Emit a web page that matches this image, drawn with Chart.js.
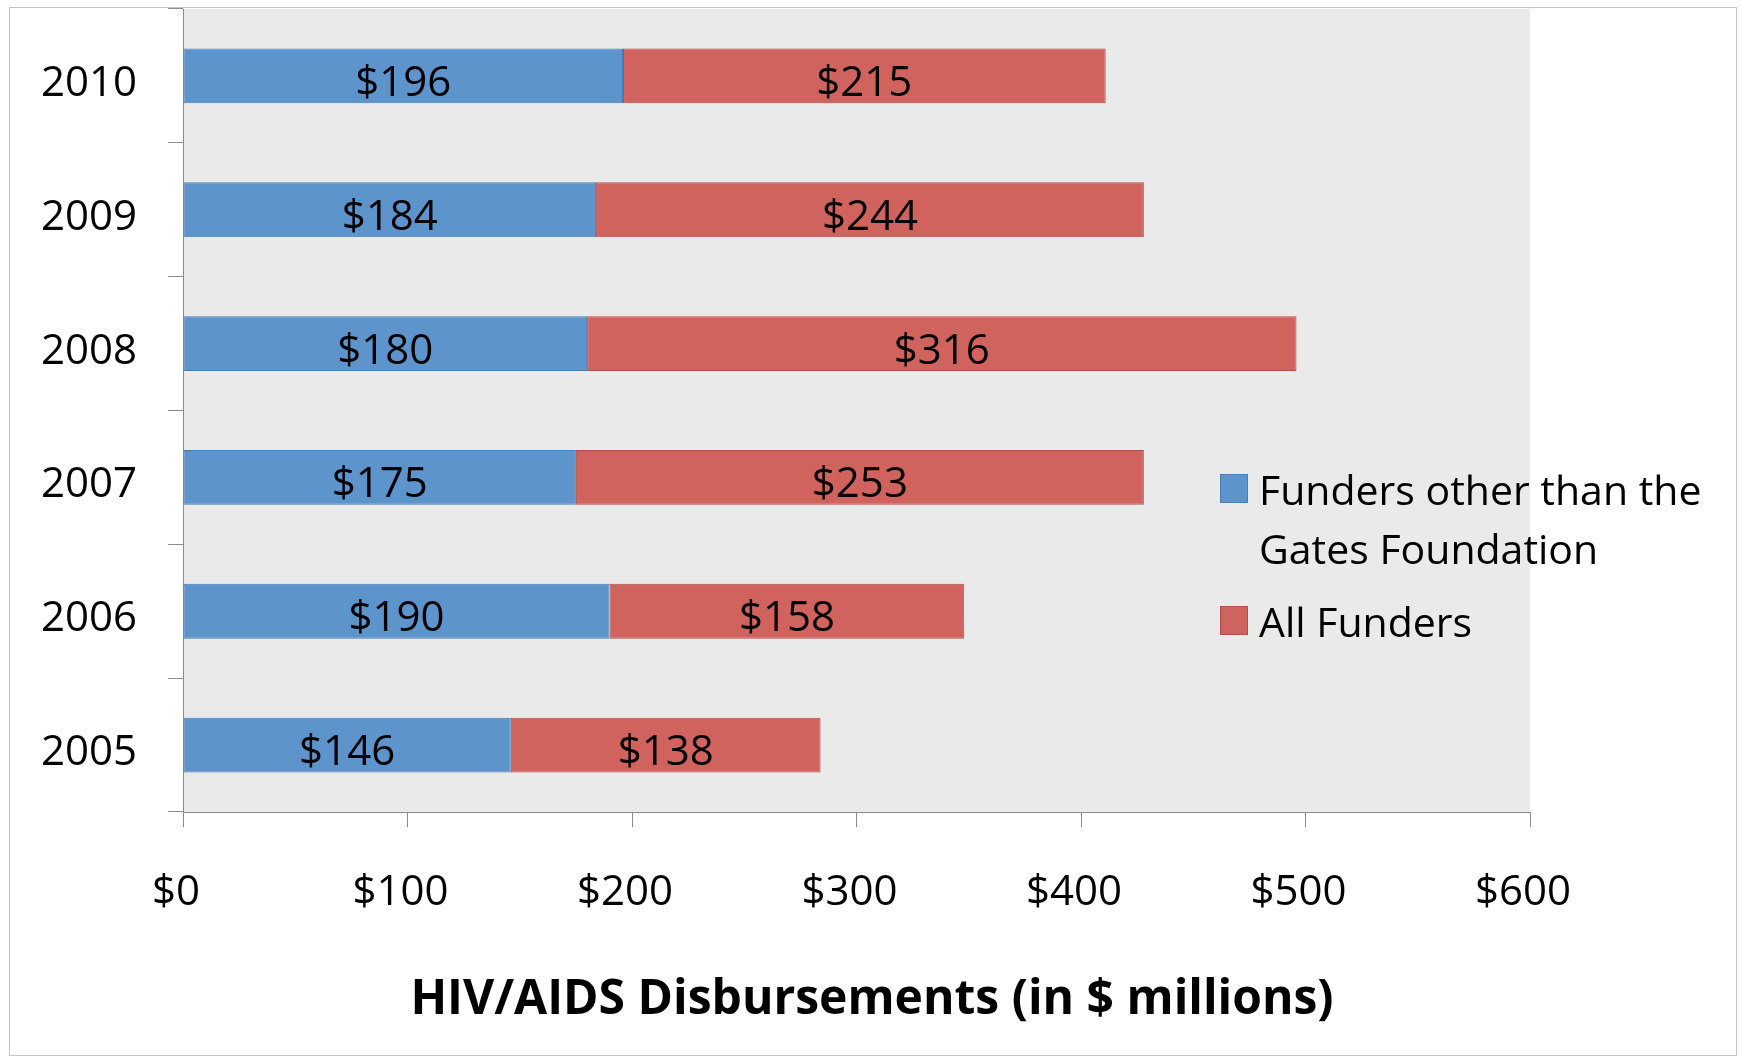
<!DOCTYPE html>
<html><head><meta charset="utf-8">
<script src="https://cdn.jsdelivr.net/npm/chart.js@4"></script>
<style>html,body{margin:0;padding:0;background:#fff;}canvas{display:block}</style>
</head><body>
<canvas id="c" width="1741" height="1058"></canvas>
<script>
const years = ['2010', '2009', '2008', '2007', '2006', '2005'];
const otherFunders = [196, 184, 180, 175, 190, 146];
const allFunders = [215, 244, 316, 253, 158, 138];
const seriesNames = ['Funders other than the Gates Foundation', 'All Funders'];
const xTickValues = [0, 100, 200, 300, 400, 500, 600];
const axisTitle = 'HIV/AIDS Disbursements (in $ millions)';

const FONT = '"Open Sans", sans-serif';
const BLUE = '#5E94CC', BLUE_EDGE = '#4A7DB5';
const RED = '#D0635D', RED_EDGE = '#B04E49';
const AXIS = '#8C8C8C';

const bgPlugin = {
  id: 'bg',
  beforeDraw(chart) {
    const ctx = chart.ctx, a = chart.chartArea;
    ctx.save();
    ctx.fillStyle = '#fff';
    ctx.fillRect(0, 0, chart.width, chart.height);
    ctx.strokeStyle = '#C4C4C4';
    ctx.lineWidth = 1;
    ctx.strokeRect(9.5, 7.5, 1727, 1048);
    ctx.fillStyle = '#EAEAEA';
    ctx.fillRect(a.left, a.top, a.right - a.left, a.bottom - a.top);
    ctx.restore();
  }
};

const valueLabels = {
  id: 'valueLabels',
  afterDatasetsDraw(chart) {
    const ctx = chart.ctx;
    ctx.save();
    ctx.font = '42px ' + FONT;
    ctx.fillStyle = '#000';
    ctx.textAlign = 'center';
    ctx.textBaseline = 'alphabetic';
    chart.data.datasets.forEach((ds, i) => {
      chart.getDatasetMeta(i).data.forEach((el, j) => {
        const p = el.getProps(['x', 'base', 'y'], true);
        ctx.fillText('$' + ds.data[j], (p.x + p.base) / 2, p.y + 20);
      });
    });
    ctx.restore();
  }
};

function wrap(ctx, text, maxW) {
  const words = text.split(' '); const lines = []; let cur = '';
  words.forEach(w => {
    const t = cur ? cur + ' ' + w : w;
    if (ctx.measureText(t).width > maxW && cur) { lines.push(cur); cur = w; } else cur = t;
  });
  if (cur) lines.push(cur);
  return lines;
}

const customLegend = {
  id: 'customLegend',
  afterDraw(chart) {
    const ctx = chart.ctx;
    ctx.save();
    ctx.font = '41px ' + FONT;
    ctx.textAlign = 'left';
    ctx.textBaseline = 'alphabetic';
    let baseline = 505;
    chart.data.datasets.forEach((ds, i) => {
      ctx.fillStyle = ds.backgroundColor;
      ctx.strokeStyle = ds.borderColor;
      ctx.lineWidth = 1;
      ctx.fillRect(1220, baseline - 31, 28, 29);
      ctx.strokeRect(1220.5, baseline - 30.5, 27, 28);
      ctx.fillStyle = '#000';
      const lines = wrap(ctx, ds.label, 480);
      lines.forEach((ln, k) => {
        ctx.fillText(ln, 1259, baseline + k * 59);
      });
      baseline += (lines.length - 1) * 59 + 73;
    });
    ctx.restore();
  }
};

const bottomTitle = {
  id: 'bottomTitle',
  afterDraw(chart) {
    const ctx = chart.ctx;
    ctx.save();
    ctx.font = 'bold 48px ' + FONT;
    ctx.fillStyle = '#000';
    ctx.textAlign = 'center';
    ctx.textBaseline = 'alphabetic';
    ctx.fillText(axisTitle, 872, 1014);
    ctx.restore();
  }
};

new Chart(document.getElementById('c'), {
  type: 'bar',
  data: {
    labels: years,
    datasets: [
      { label: seriesNames[0], data: otherFunders, backgroundColor: BLUE, borderColor: BLUE_EDGE, borderWidth: 1, borderSkipped: false },
      { label: seriesNames[1], data: allFunders, backgroundColor: RED, borderColor: RED_EDGE, borderWidth: 1, borderSkipped: false }
    ]
  },
  options: {
    indexAxis: 'y',
    responsive: false,
    animation: false,
    devicePixelRatio: 1,
    barPercentage: 0.41,
    categoryPercentage: 1.0,
    layout: { padding: { left: 0, top: 9, right: 211, bottom: 0 } },
    plugins: { legend: { display: false }, tooltip: { enabled: false }, title: { display: false } },
    scales: {
      x: {
        stacked: true, min: 0, max: 600,
        afterBuildTicks: s => { s.ticks = xTickValues.map(v => ({ value: v })); },
        ticks: { callback: v => '$' + v, color: '#000', font: { family: FONT, size: 42 }, padding: 41, labelOffset: -7, maxRotation: 0, autoSkip: false },
        grid: { drawOnChartArea: false, drawTicks: true, tickLength: 15, color: AXIS },
        border: { color: AXIS, width: 1 },
        afterFit: s => { s.height = 246; s.paddingLeft = 0; s.paddingRight = 0; }
      },
      y: {
        stacked: true,
        ticks: { color: '#000', font: { family: FONT, size: 42 }, padding: 31, labelOffset: 8 },
        grid: { offset: true, drawOnChartArea: false, drawTicks: true, tickLength: 15, color: AXIS },
        border: { color: AXIS, width: 1 },
        afterFit: s => { s.width = 183; s.paddingTop = 0; s.paddingBottom = 0; }
      }
    }
  },
  plugins: [bgPlugin, valueLabels, customLegend, bottomTitle]
});
</script>
</body></html>
